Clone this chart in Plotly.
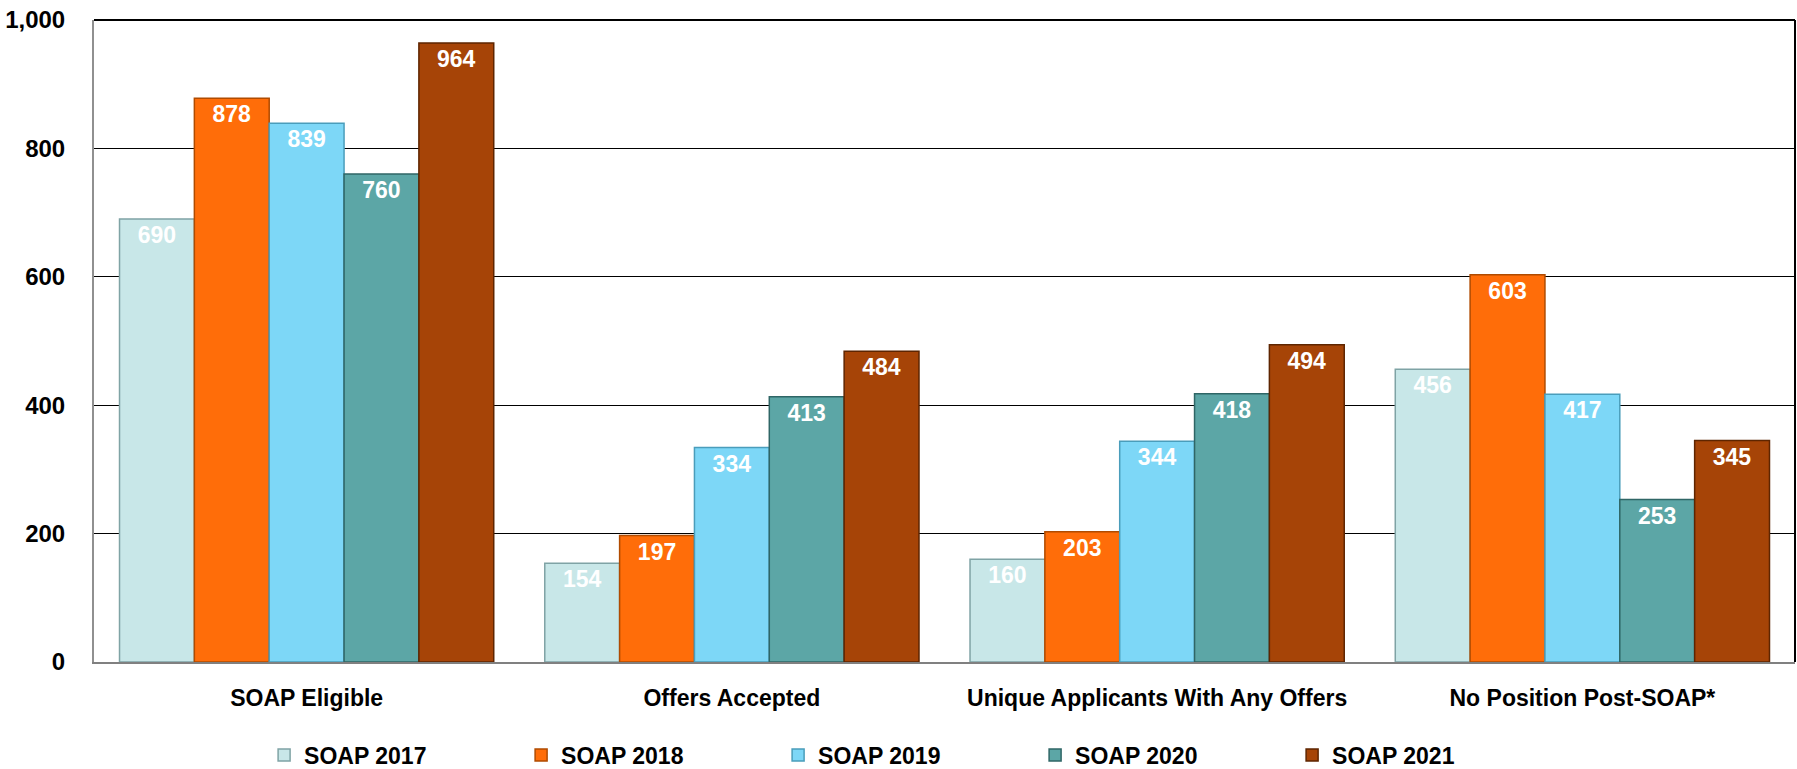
import plotly.graph_objects as go

categories = ["SOAP Eligible", "Offers Accepted", "Unique Applicants With Any Offers", "No Position Post-SOAP*"]
series_names = ["SOAP 2017", "SOAP 2018", "SOAP 2019", "SOAP 2020", "SOAP 2021"]
soap_2017 = [690, 154, 160, 456]
soap_2018 = [878, 197, 203, 603]
soap_2019 = [839, 334, 344, 417]
soap_2020 = [760, 413, 418, 253]
soap_2021 = [964, 484, 494, 345]
series_values = [soap_2017, soap_2018, soap_2019, soap_2020, soap_2021]
y_ticks = [0, 200, 400, 600, 800, 1000]

colors = ["#C8E7E8", "#FF6D09", "#7DD7F7", "#5CA6A6", "#A64407"]
edges = ["#7FA3A5", "#B04B00", "#4A9DBB", "#2F6666", "#5E2500"]
FONT = "Arial, Liberation Sans, sans-serif"

fig = go.Figure()
for name, vals, c, e in zip(series_names, series_values, colors, edges):
    fig.add_trace(go.Bar(
        x=categories, y=vals, name=name,
        marker=dict(color=c, line=dict(color=e, width=1.5)),
        text=[str(v) for v in vals], textposition="inside", insidetextanchor="end",
        textfont=dict(family=FONT, size=23, color="white", weight="bold"),
        textangle=0, cliponaxis=False,
    ))

fig.update_layout(
    width=1797, height=769,
    barmode="group", bargap=0.12, bargroupgap=0,
    plot_bgcolor="white", paper_bgcolor="white",
    margin=dict(l=94, r=2, t=20, b=107, autoexpand=False),
    font=dict(family=FONT, size=20, color="black", weight="bold"),
    legend=dict(orientation="h", x=0.1, xanchor="left",
                yref="container", y=1 - 755 / 769, yanchor="middle",
                entrywidth=212, entrywidthmode="pixels",
                font=dict(family=FONT, size=23, color="black", weight="bold"),
                itemwidth=30),
    showlegend=True,
)
fig.update_xaxes(showline=True, linecolor="#808080", linewidth=2, ticks="",
                 tickfont=dict(family=FONT, size=23, color="black", weight="bold"),
                 ticklabelstandoff=14)
fig.update_yaxes(range=[0, 1000], tickvals=y_ticks, tickformat=",",
                 showgrid=True, gridcolor="black", gridwidth=1,
                 showline=True, linecolor="#909090", linewidth=2,
                 tickfont=dict(family=FONT, size=24, color="black", weight="bold"),
                 ticklabelstandoff=22, zeroline=False)
fig.add_shape(type="line", xref="paper", yref="paper", x0=0, x1=1, y0=1, y1=1,
              line=dict(color="black", width=2))
fig.add_shape(type="line", xref="paper", yref="paper", x0=1, x1=1, y0=0, y1=1,
              line=dict(color="black", width=2))

fig.write_html("out.html", config={"displayModeBar": False},
               post_script="document.body.style.margin='0';document.body.style.overflow='hidden';")
